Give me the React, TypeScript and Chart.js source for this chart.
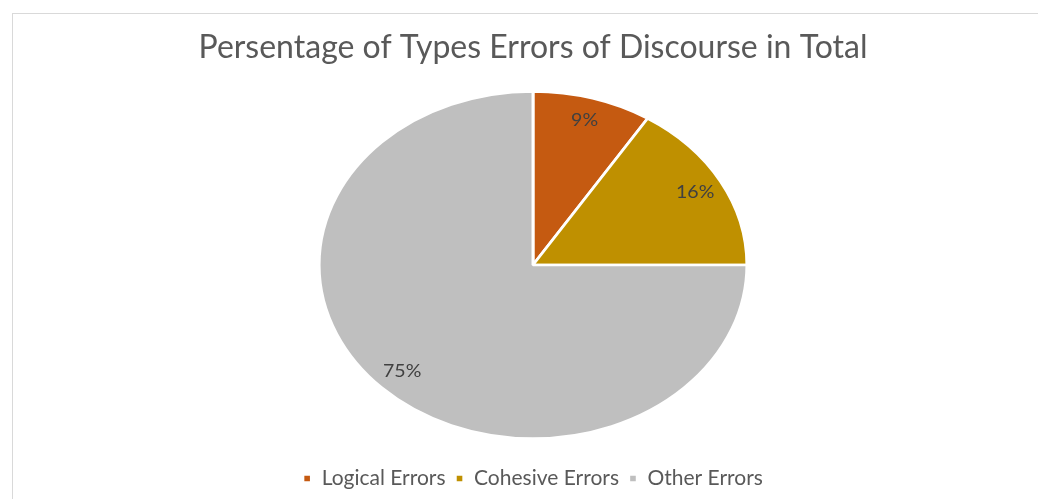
import React, { useEffect, useRef } from "react";
import { Chart, registerables } from "chart.js";

Chart.register(...registerables);

const categories = ["Logical Errors", "Cohesive Errors", "Other Errors"];
const percentages = [9, 16, 75];
const sliceColors = ["#C55A11", "#BF9000", "#BFBFBF"];
const chartTitle = "Persentage of Types Errors of Discourse in Total";

const STRETCH_X = 1.233;
const LABEL_RATIO = 0.865;
const FONT = "Lato, 'Open Sans', sans-serif";

const stretchPlugin = {
  id: "stretchPie",
  beforeDatasetsDraw(chart: any) {
    const arc = chart.getDatasetMeta(0).data[0];
    if (!arc) return;
    const ctx = chart.ctx;
    ctx.save();
    ctx.translate(arc.x, 0);
    ctx.scale(STRETCH_X, 1);
    ctx.translate(-arc.x, 0);
  },
  afterDatasetsDraw(chart: any) {
    chart.ctx.restore();
  },
};

const labelPlugin = {
  id: "sliceLabels",
  afterDraw(chart: any) {
    const ctx = chart.ctx;
    const meta = chart.getDatasetMeta(0);
    ctx.save();
    ctx.font = `17px ${FONT}`;
    ctx.fillStyle = "#404040";
    ctx.textAlign = "center";
    ctx.textBaseline = "middle";
    meta.data.forEach((el: any, i: number) => {
      const p = el.getProps(["x", "y", "startAngle", "endAngle", "outerRadius"], true);
      const mid = (p.startAngle + p.endAngle) / 2;
      const r = p.outerRadius * LABEL_RATIO;
      const px = p.x + Math.cos(mid) * r * STRETCH_X;
      const py = p.y + Math.sin(mid) * r;
      ctx.save();
      ctx.translate(px, py);
      ctx.scale(1.15, 1);
      ctx.fillText(`${percentages[i]}%`, 0, 0);
      ctx.restore();
    });
    ctx.restore();
  },
};

export default function App() {
  const canvasRef = useRef<HTMLCanvasElement | null>(null);

  useEffect(() => {
    if (!canvasRef.current) return;
    const chart = new Chart(canvasRef.current, {
      type: "pie",
      data: {
        labels: categories,
        datasets: [
          {
            data: percentages,
            backgroundColor: sliceColors,
            borderColor: "#FFFFFF",
            borderWidth: 2.4,
            radius: 173.5,
            clip: false,
          } as any,
        ],
      },
      options: {
        responsive: false,
        animation: false,
        devicePixelRatio: 1,
        layout: { padding: { left: 28, right: 0, top: 0, bottom: 0 } },
        plugins: {
          title: {
            display: true,
            text: chartTitle,
            color: "#595959",
            font: { family: FONT, size: 32, weight: "normal", lineHeight: 1.2 },
            padding: { top: 28, bottom: 5.5 },
          },
          legend: {
            display: true,
            position: "bottom",
            labels: {
              color: "#595959",
              font: { family: FONT, size: 21 },
              boxWidth: 8,
              boxHeight: 8,
              padding: 10,
            },
          },
          tooltip: { enabled: false },
        },
      },
      plugins: [stretchPlugin, labelPlugin],
    });
    return () => chart.destroy();
  }, []);

  return (
    <div style={{ position: "absolute", left: 0, top: 0, width: 1038, height: 499, background: "#fff", overflow: "hidden" }}>
      <div
        style={{
          position: "absolute",
          left: 12,
          top: 13,
          width: 1026,
          height: 486,
          borderLeft: "1px solid #D9D9D9",
          borderTop: "1px solid #D9D9D9",
          boxSizing: "border-box",
        }}
      />
      <canvas ref={canvasRef} width={1038} height={499} style={{ position: "absolute", left: 0, top: 0 }} />
    </div>
  );
}
